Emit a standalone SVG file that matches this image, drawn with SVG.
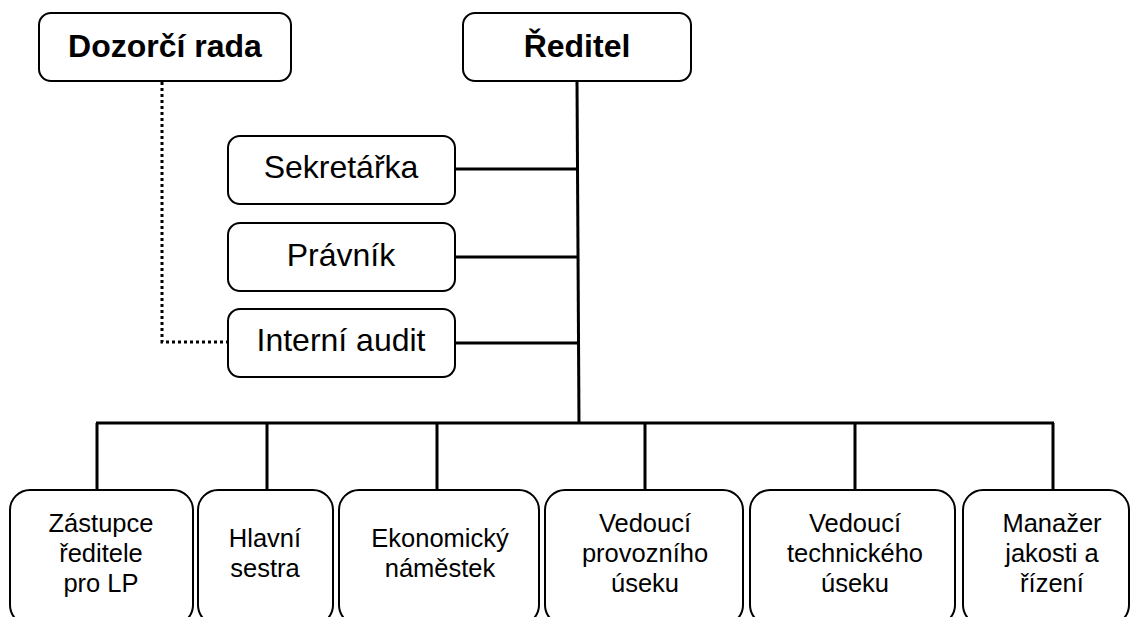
<svg xmlns="http://www.w3.org/2000/svg" width="1135" height="617" viewBox="0 0 1135 617">
<style>
.box{fill:#fff;stroke:#000;stroke-width:2}
.t{font-family:"Liberation Sans",Arial,sans-serif;fill:#000;text-anchor:middle}
.big{font-size:32px}
.b{font-weight:bold}
.sm{font-size:25.5px}
.ln{stroke:#000;stroke-width:3;fill:none}
.dot{stroke:#000;stroke-width:3;fill:none;stroke-dasharray:3 3}
</style>
<rect width="1135" height="617" fill="#fff"/>
<g id="connectors">
<path class="dot" d="M162,82 V342 H228"/>
<path class="ln" d="M577,81 L579,424"/>
<path class="ln" d="M455,169 H578 M455,257 H579 M455,343 H579"/>
<path class="ln" d="M96,423 H1054"/>
<path class="ln" d="M97,423 V490 M267,423 V490 M437,423 V490 M645,423 V490 M855,423 V490 M1053,423 V490"/>
</g>
<g id="dozorci"><rect class="box" x="39" y="13" width="252" height="68" rx="12"/><text class="t big b" x="165" y="57">Dozorčí rada</text></g>
<g id="reditel"><rect class="box" x="463" y="13" width="228" height="68" rx="12"/><text class="t big b" x="577" y="57">Ředitel</text></g>
<g id="sekretarka"><rect class="box" x="228" y="136" width="227" height="68" rx="12"/><text class="t big" x="341" y="178">Sekretářka</text></g>
<g id="pravnik"><rect class="box" x="228" y="223" width="227" height="68" rx="12"/><text class="t big" x="341" y="266">Právník</text></g>
<g id="audit"><rect class="box" x="228" y="309" width="227" height="68" rx="12"/><text class="t big" x="341" y="351">Interní audit</text></g>
<g id="zastupce"><rect class="box" x="10" y="490" width="183" height="135" rx="20"/><text class="t sm" x="101" y="532">Zástupce</text><text class="t sm" x="101" y="562">ředitele</text><text class="t sm" x="101" y="592">pro LP</text></g>
<g id="sestra"><rect class="box" x="198" y="490" width="135" height="135" rx="20"/><text class="t sm" x="265" y="547">Hlavní</text><text class="t sm" x="265" y="577">sestra</text></g>
<g id="ekonom"><rect class="box" x="339" y="490" width="200" height="135" rx="20"/><text class="t sm" x="440" y="547">Ekonomický</text><text class="t sm" x="440" y="577">náměstek</text></g>
<g id="provoz"><rect class="box" x="545" y="490" width="198" height="135" rx="20"/><text class="t sm" x="645" y="532">Vedoucí</text><text class="t sm" x="645" y="562">provozního</text><text class="t sm" x="645" y="592">úseku</text></g>
<g id="technik"><rect class="box" x="750" y="490" width="205" height="135" rx="20"/><text class="t sm" x="855" y="532">Vedoucí</text><text class="t sm" x="855" y="562">technického</text><text class="t sm" x="855" y="592">úseku</text></g>
<g id="manazer"><rect class="box" x="963" y="490" width="166" height="135" rx="20"/><text class="t sm" x="1052" y="532">Manažer</text><text class="t sm" x="1052" y="562">jakosti a</text><text class="t sm" x="1052" y="592">řízení</text></g>
</svg>
